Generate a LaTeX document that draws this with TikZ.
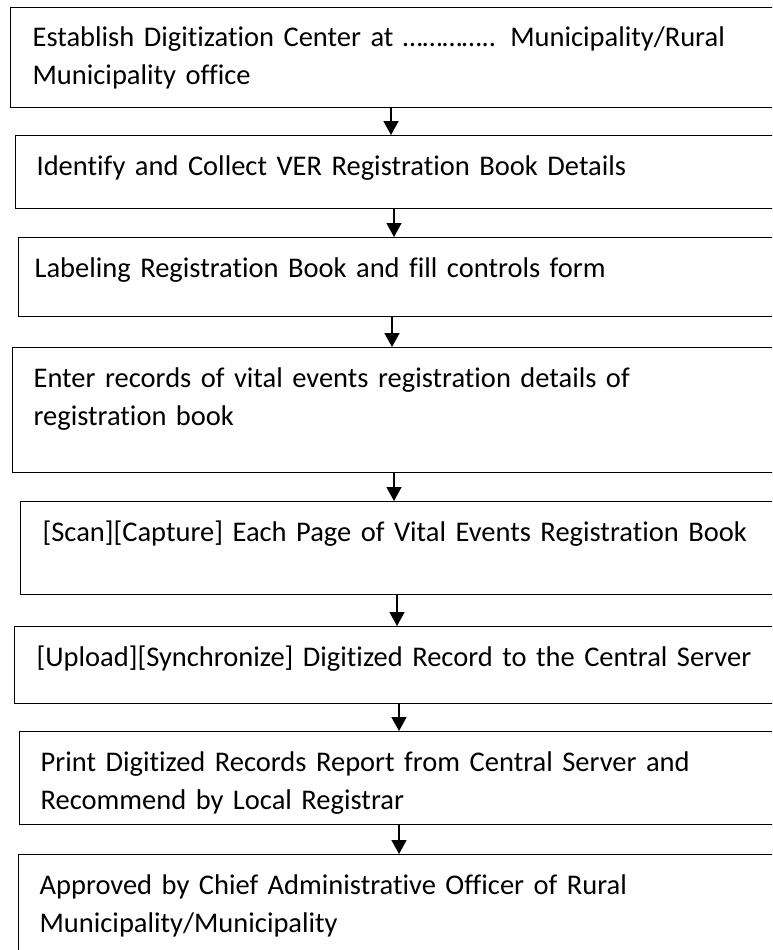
\documentclass[tikz,border=0pt]{standalone}
\usepackage{fontspec}
\setmainfont{Carlito}[Ligatures=NoCommon]
\usetikzlibrary{arrows.meta}
\begin{document}
\begin{tikzpicture}[x=1pt, y=-1pt, line width=1.2pt,
    stepbox/.style={draw=black, anchor=north west, inner sep=0pt},
    steptext/.style={anchor=base west, inner sep=0pt, text width=745pt, align=left,
        font=\fontsize{28.5}{38}\selectfont},
    flow/.style={line width=1.5pt, -{Triangle[width=15pt,length=14pt]}}]
    \useasboundingbox (0,0) rectangle (772,950);
    \clip (0,0) rectangle (772,950);
    % the eight steps: left edge, top, bottom, text indent, text clip
    \foreach \idx/\lft/\tp/\bt/\ind/\cut/\txt in {
        1/10/7/107/22/107/{Establish Digitization Center at ………….. Municipality/Rural\\Municipality office},
        2/15/135/208/21/208/{Identify and Collect VER Registration Book Details},
        3/18/237/316/16/316/{Labeling Registration Book and fill controls form},
        4/12/347/472/21/472/{Enter records of vital events registration details of\\registration book},
        5/20/501/594/22/594/{[Scan][Capture] Each Page of Vital Events Registration Book},
        6/14/626/703/22/703/{[Upload][Synchronize] Digitized Record to the Central Server},
        7/19/731/824/21/813/{Print Digitized Records Report from Central Server and\\Recommend by Local Registrar},
        8/18/854/965/21/965/{Approved by Chief Administrative Officer of Rural\\Municipality/Municipality}}
    {
        \node[stepbox, minimum width={800-\lft}, minimum height={\bt-\tp}] (box-\idx) at (\lft,\tp) {};
        \begin{scope}
            \clip (0,\tp) rectangle (772,\cut);
            \node[steptext] (label-\idx) at ([shift={(\ind,40)}]box-\idx.north west) {\txt};
        \end{scope}
    }
    % arrows between consecutive steps
    \foreach \idx/\nxt/\ax in {1/2/391, 2/3/394, 3/4/392, 4/5/394, 5/6/397, 6/7/399, 7/8/399}
    {
        \coordinate (col-\idx) at (\ax,0);
        \draw[flow] (box-\idx.south -| col-\idx) -- (box-\nxt.north -| col-\idx);
    }
\end{tikzpicture}
\end{document}
